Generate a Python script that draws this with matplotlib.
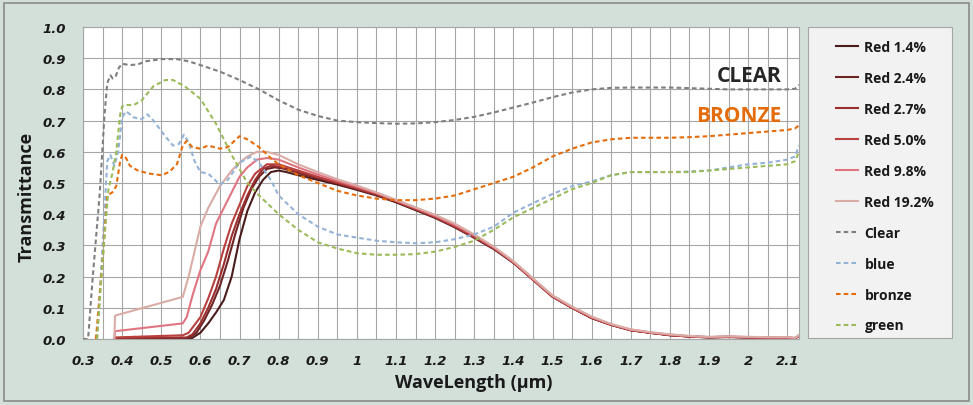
import matplotlib
matplotlib.use("Agg")
import matplotlib.pyplot as plt
from matplotlib.patches import Rectangle
import numpy as np

plt.rcParams['font.family'] = ['Open Sans', 'DejaVu Sans']

# ---- data ----
clear_x = [0.30, 0.313, 0.325, 0.343, 0.355, 0.362, 0.370, 0.376, 0.383, 0.392, 0.40, 0.42, 0.44,
           0.46, 0.50, 0.54, 0.57, 0.60, 0.65, 0.70, 0.75, 0.80, 0.85, 0.90, 0.95, 1.00, 1.05,
           1.10, 1.15, 1.20, 1.25, 1.30, 1.35, 1.40, 1.45, 1.50, 1.55, 1.60, 1.65, 1.70, 1.75,
           1.80, 1.85, 1.90, 1.95, 2.00, 2.05, 2.10, 2.12, 2.13]
clear_y = [0.0, 0.0, 0.20, 0.47, 0.72, 0.82, 0.845, 0.835, 0.84, 0.87, 0.882, 0.878, 0.88,
           0.89, 0.897, 0.897, 0.89, 0.878, 0.857, 0.83, 0.80, 0.765, 0.735, 0.715, 0.70, 0.695, 0.692,
           0.69, 0.691, 0.695, 0.702, 0.712, 0.726, 0.742, 0.758, 0.775, 0.79, 0.80, 0.805, 0.806, 0.806,
           0.806, 0.804, 0.802, 0.80, 0.80, 0.80, 0.80, 0.802, 0.815]

blue_x = [0.336, 0.350, 0.362, 0.370, 0.380, 0.390, 0.400, 0.410, 0.430, 0.450, 0.465, 0.480,
          0.510, 0.530, 0.545, 0.558, 0.570, 0.585, 0.600, 0.620, 0.650, 0.670, 0.700, 0.730,
          0.750, 0.780, 0.800, 0.850, 0.900, 0.950, 1.00, 1.05, 1.10, 1.15, 1.20, 1.25, 1.30,
          1.35, 1.40, 1.45, 1.50, 1.55, 1.60, 1.65, 1.70, 1.75, 1.80, 1.85, 1.90, 1.95, 2.00,
          2.05, 2.10, 2.12, 2.13]
blue_y = [0.0, 0.30, 0.57, 0.59, 0.555, 0.60, 0.71, 0.73, 0.71, 0.705, 0.72, 0.70,
          0.65, 0.62, 0.625, 0.655, 0.63, 0.57, 0.535, 0.53, 0.495, 0.51, 0.565, 0.585,
          0.565, 0.51, 0.46, 0.40, 0.36, 0.335, 0.325, 0.315, 0.31, 0.307, 0.31, 0.32, 0.335,
          0.36, 0.405, 0.435, 0.465, 0.49, 0.505, 0.525, 0.535, 0.535, 0.535, 0.537, 0.54, 0.55, 0.56,
          0.565, 0.575, 0.585, 0.62]

bronze_x = [0.333, 0.350, 0.362, 0.375, 0.385, 0.395, 0.400, 0.410, 0.420, 0.440, 0.470, 0.500,
            0.520, 0.540, 0.555, 0.565, 0.580, 0.600, 0.620, 0.650, 0.670, 0.700, 0.720, 0.750,
            0.780, 0.800, 0.850, 0.900, 0.950, 1.00, 1.05, 1.10, 1.15, 1.20, 1.25, 1.30, 1.35,
            1.40, 1.45, 1.50, 1.55, 1.60, 1.65, 1.70, 1.75, 1.80, 1.85, 1.90, 1.95, 2.00, 2.05,
            2.10, 2.12, 2.13]
bronze_y = [0.0, 0.25, 0.46, 0.47, 0.49, 0.57, 0.59, 0.58, 0.555, 0.54, 0.53, 0.525,
            0.535, 0.56, 0.62, 0.635, 0.615, 0.61, 0.62, 0.61, 0.615, 0.65, 0.64, 0.615,
            0.58, 0.56, 0.525, 0.50, 0.475, 0.46, 0.45, 0.445, 0.445, 0.45, 0.46, 0.48, 0.50,
            0.52, 0.55, 0.585, 0.61, 0.63, 0.64, 0.645, 0.645, 0.645, 0.647, 0.65, 0.655, 0.66, 0.665,
            0.67, 0.675, 0.685]

green_x = [0.336, 0.350, 0.365, 0.375, 0.385, 0.395, 0.400, 0.410, 0.430, 0.450, 0.480, 0.510,
           0.530, 0.560, 0.600, 0.640, 0.680, 0.720, 0.750, 0.800, 0.850, 0.900, 0.950, 1.00,
           1.05, 1.10, 1.15, 1.20, 1.25, 1.30, 1.35, 1.40, 1.45, 1.50, 1.55, 1.60, 1.65, 1.70,
           1.75, 1.80, 1.85, 1.90, 1.95, 2.00, 2.05, 2.10, 2.12, 2.13]
green_y = [0.0, 0.25, 0.48, 0.53, 0.60, 0.72, 0.745, 0.75, 0.75, 0.765, 0.81, 0.83,
           0.83, 0.81, 0.77, 0.69, 0.59, 0.50, 0.46, 0.40, 0.35, 0.31, 0.29, 0.275,
           0.27, 0.27, 0.272, 0.28, 0.295, 0.315, 0.35, 0.39, 0.42, 0.45, 0.48, 0.50, 0.525, 0.535,
           0.535, 0.535, 0.535, 0.54, 0.545, 0.55, 0.555, 0.56, 0.57, 0.60]

tail_x = [0.85, 0.90, 0.95, 1.00, 1.05, 1.10, 1.15, 1.20, 1.25, 1.30, 1.35, 1.40, 1.45, 1.50,
          1.55, 1.60, 1.65, 1.70, 1.75, 1.80, 1.85, 1.90, 1.95, 2.00, 2.05, 2.10, 2.12, 2.13]

red14_x = [0.380, 0.575, 0.600, 0.620, 0.640, 0.660, 0.680, 0.700, 0.720, 0.740, 0.760, 0.780, 0.800, 0.820]
red14_y = [0.0, 0.0, 0.02, 0.05, 0.085, 0.125, 0.20, 0.32, 0.41, 0.47, 0.51, 0.535, 0.54, 0.535]
red14_tail = [0.525, 0.51, 0.495, 0.478, 0.46, 0.438, 0.413, 0.388, 0.358, 0.324, 0.288, 0.244, 0.19, 0.135,
              0.10, 0.067, 0.045, 0.028, 0.02, 0.012, 0.008, 0.005, 0.007, 0.005, 0.004, 0.004, 0.002, 0.01]

red24_x = [0.380, 0.382, 0.570, 0.590, 0.610, 0.630, 0.650, 0.670, 0.690, 0.710, 0.730, 0.750, 0.770, 0.790, 0.810]
red24_y = [0.0, 0.002, 0.003, 0.02, 0.06, 0.11, 0.17, 0.25, 0.34, 0.42, 0.48, 0.52, 0.545, 0.55, 0.547]
red24_tail = [0.532, 0.515, 0.498, 0.48, 0.462, 0.44, 0.415, 0.39, 0.36, 0.326, 0.29, 0.246, 0.192, 0.137,
              0.10, 0.068, 0.046, 0.029, 0.02, 0.013, 0.008, 0.006, 0.007, 0.005, 0.005, 0.004, 0.003, 0.01]

red27_x = [0.380, 0.382, 0.565, 0.580, 0.600, 0.620, 0.640, 0.660, 0.680, 0.700, 0.720, 0.740, 0.760, 0.780, 0.800]
red27_y = [0.0, 0.003, 0.005, 0.015, 0.05, 0.10, 0.16, 0.24, 0.33, 0.40, 0.46, 0.51, 0.545, 0.555, 0.553]
red27_tail = [0.535, 0.518, 0.5, 0.482, 0.463, 0.441, 0.416, 0.39, 0.36, 0.326, 0.29, 0.245, 0.19, 0.136,
              0.10, 0.067, 0.045, 0.028, 0.02, 0.012, 0.008, 0.005, 0.006, 0.005, 0.004, 0.004, 0.002, 0.01]

red50_x = [0.380, 0.382, 0.555, 0.570, 0.600, 0.620, 0.640, 0.660, 0.680, 0.700, 0.720, 0.740, 0.770, 0.800]
red50_y = [0.0, 0.005, 0.012, 0.02, 0.07, 0.13, 0.20, 0.29, 0.37, 0.43, 0.49, 0.53, 0.56, 0.56]
red50_tail = [0.54, 0.52, 0.502, 0.484, 0.465, 0.442, 0.417, 0.392, 0.362, 0.328, 0.291, 0.246, 0.19, 0.136,
              0.10, 0.068, 0.046, 0.028, 0.02, 0.013, 0.008, 0.006, 0.007, 0.005, 0.004, 0.004, 0.003, 0.01]

red98_x = [0.380, 0.382, 0.555, 0.565, 0.580, 0.600, 0.620, 0.640, 0.660, 0.680, 0.700, 0.720, 0.745, 0.770, 0.800]
red98_y = [0.0, 0.025, 0.05, 0.07, 0.14, 0.22, 0.28, 0.37, 0.42, 0.47, 0.52, 0.55, 0.575, 0.58, 0.575]
red98_tail = [0.55, 0.527, 0.507, 0.488, 0.468, 0.444, 0.42, 0.395, 0.366, 0.332, 0.294, 0.247, 0.192, 0.138,
              0.102, 0.07, 0.047, 0.03, 0.021, 0.014, 0.009, 0.006, 0.008, 0.006, 0.005, 0.005, 0.003, 0.012]

red192_x = [0.380, 0.382, 0.555, 0.570, 0.585, 0.600, 0.620, 0.650, 0.680, 0.700, 0.720, 0.745, 0.770, 0.800]
red192_y = [0.0, 0.075, 0.135, 0.20, 0.28, 0.36, 0.42, 0.49, 0.54, 0.565, 0.585, 0.60, 0.60, 0.59]
red192_tail = [0.56, 0.535, 0.512, 0.492, 0.47, 0.446, 0.422, 0.398, 0.37, 0.335, 0.296, 0.25, 0.195, 0.14,
               0.104, 0.072, 0.048, 0.031, 0.022, 0.015, 0.01, 0.007, 0.009, 0.007, 0.006, 0.006, 0.004, 0.013]

red_series = [
    ("Red 1.4%", red14_x, red14_y, red14_tail, "#4a1c1c"),
    ("Red 2.4%", red24_x, red24_y, red24_tail, "#6e2424"),
    ("Red 2.7%", red27_x, red27_y, red27_tail, "#9a2e2e"),
    ("Red 5.0%", red50_x, red50_y, red50_tail, "#b8403f"),
    ("Red 9.8%", red98_x, red98_y, red98_tail, "#e07480"),
    ("Red 19.2%", red192_x, red192_y, red192_tail, "#d9aca6"),
]
dashed_series = [
    ("Clear", clear_x, clear_y, "#7f7f7f"),
    ("blue", blue_x, blue_y, "#95b3d7"),
    ("bronze", bronze_x, bronze_y, "#e46c0a"),
    ("green", green_x, green_y, "#9bbb59"),
]

x_ticks = [0.3, 0.4, 0.5, 0.6, 0.7, 0.8, 0.9, 1.0, 1.1, 1.2, 1.3, 1.4, 1.5, 1.6, 1.7, 1.8, 1.9, 2.0, 2.1]
x_tick_labels = ["0.3", "0.4", "0.5", "0.6", "0.7", "0.8", "0.9", "1", "1.1", "1.2", "1.3",
                 "1.4", "1.5", "1.6", "1.7", "1.8", "1.9", "2", "2.1"]
y_ticks = [0.0, 0.1, 0.2, 0.3, 0.4, 0.5, 0.6, 0.7, 0.8, 0.9, 1.0]

# ---- figure ----
W, H = 973, 406
fig = plt.figure(figsize=(W / 100, H / 100), dpi=100, facecolor="#d3dfd9")
fig.patches.append(Rectangle((4 / W, 4 / H), (W - 8) / W, (H - 8) / H, transform=fig.transFigure,
                             fill=False, edgecolor="#8c8c8c", lw=1.2))

ax = fig.add_axes([83 / W, (H - 340) / H, (799 - 83) / W, (340 - 28) / H])
ax.set_facecolor("white")

handles = []
for label, xs, ys, tail, col in red_series:
    line, = ax.plot(xs + tail_x, ys + tail, color=col, lw=1.5, label=label, zorder=3)
    handles.append(line)
for label, xs, ys, col in dashed_series:
    line, = ax.plot(xs, ys, color=col, lw=1.5, ls=(0, (2.2, 1.5)), label=label, zorder=4)
    handles.append(line)

ax.set_xlim(0.3, 2.13)
ax.set_ylim(0, 1.0)
ax.set_xticks(np.arange(0.3, 2.13, 0.05), minor=True)
ax.set_xticks(x_ticks)
ax.set_xticklabels(x_tick_labels)
ax.set_yticks(y_ticks)
ax.set_yticklabels([f"{v:.1f}" for v in y_ticks])
ax.grid(True, which="both", axis="x", color="#a6a6a6", lw=0.8)
ax.grid(True, which="major", axis="y", color="#a6a6a6", lw=0.8)
ax.set_axisbelow(True)
ax.tick_params(which="both", length=0)
ax.tick_params(axis="y", pad=12)
ax.tick_params(axis="x", pad=11)
for lab in ax.get_xticklabels() + ax.get_yticklabels():
    lab.set_family("DejaVu Sans")
    lab.set_fontweight("bold")
    lab.set_fontstyle("italic")
    lab.set_fontsize(9.5)
    lab.set_color("#1a1a1a")
for sp in ax.spines.values():
    sp.set_color("#a6a6a6")
    sp.set_linewidth(0.8)

ax.text(2.085, 0.843, "CLEAR", color="#262626", fontsize=15, fontweight="bold",
        ha="right", va="center", zorder=5)
ax.text(2.085, 0.715, "BRONZE", color="#e46c0a", fontsize=15, fontweight="bold",
        ha="right", va="center", zorder=5)

fig.text(27 / W, (H - 197) / H, "Transmittance", rotation=90, fontsize=13, fontweight="bold",
         ha="center", va="center", color="#1a1a1a")
fig.text(474 / W, (H - 383) / H, "WaveLength (μm)", fontsize=13, fontweight="bold",
         ha="center", va="center", color="#1a1a1a")

# legend box
fig.patches.append(Rectangle((808 / W, (H - 339) / H), 144 / W, 311 / H, transform=fig.transFigure,
                             facecolor="#f2f2f2", edgecolor="#a6a6a6", lw=0.8))
leg = fig.legend(handles=handles, loc="upper left", bbox_to_anchor=(829 / W, (H - 34) / H),
                 frameon=False, borderpad=0, handlelength=1.6, handletextpad=0.45,
                 labelspacing=1.22, prop={"weight": "bold", "size": 10})
for t in leg.get_texts():
    t.set_color("#1a1a1a")

fig.savefig("out.png", dpi=100, facecolor=fig.get_facecolor())
